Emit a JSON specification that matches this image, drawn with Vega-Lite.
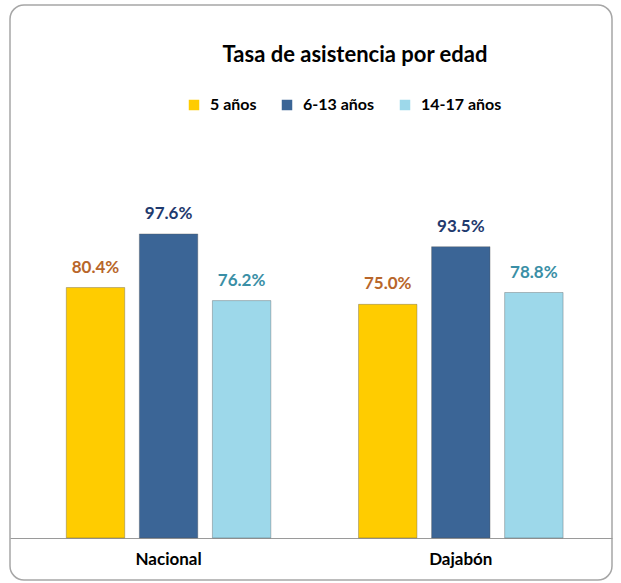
{
  "$schema": "https://vega.github.io/schema/vega-lite/v6.json",
  "width": 621,
  "height": 583,
  "autosize": {"type": "fit", "contains": "padding"},
  "padding": {"left": 10, "top": 5, "right": 9, "bottom": 3},
  "background": "white",
  "view": {"stroke": "#a6a6a6", "strokeWidth": 1.5, "cornerRadius": 14, "fill": "white"},
  "title": {"text": "Tasa de asistencia por edad", "offset": -62, "dx": 44, "fontSize": 22, "font": "Lato", "fontWeight": "bold", "color": "#000000"},
  "data": {"values": [
    {"region": "Nacional", "edad": "5 años", "tasa": 0.804},
    {"region": "Nacional", "edad": "6-13 años", "tasa": 0.976},
    {"region": "Nacional", "edad": "14-17 años", "tasa": 0.762},
    {"region": "Dajabón", "edad": "5 años", "tasa": 0.750},
    {"region": "Dajabón", "edad": "6-13 años", "tasa": 0.935},
    {"region": "Dajabón", "edad": "14-17 años", "tasa": 0.788}
  ]},
  "encoding": {
    "x": {"field": "region", "type": "nominal", "sort": ["Nacional", "Dajabón"],
      "scale": {"paddingInner": 0.3, "paddingOuter": 0.18, "align": 0.535},
      "axis": {"title": null, "labelAngle": 0, "ticks": false, "domainColor": "#9a9a9a", "domainWidth": 1.2, "labelFontSize": 17, "labelFont": "Lato", "labelFontWeight": "bold", "labelColor": "#000000", "offset": -42, "labelPadding": 13, "grid": false}},
    "xOffset": {"field": "edad", "type": "nominal", "sort": ["5 años", "6-13 años", "14-17 años"], "scale": {"paddingInner": 0.2}},
    "y": {"field": "tasa", "type": "quantitative", "scale": {"domain": [-0.135, 1.711]}, "axis": null}
  },
  "layer": [
    {
      "mark": {"type": "bar", "stroke": "#555555", "strokeWidth": 0.6, "strokeOpacity": 0.6},
      "encoding": {
        "y2": {"datum": 0},
        "color": {"field": "edad", "type": "nominal", "sort": ["5 años", "6-13 años", "14-17 años"],
          "scale": {"domain": ["5 años", "6-13 años", "14-17 años"], "range": ["#FFCC00", "#3B6596", "#9DD8EA"]},
          "legend": {"title": null, "orient": "none", "legendX": 176, "legendY": 92, "direction": "horizontal", "symbolType": "square", "symbolSize": 110, "symbolStrokeWidth": 0, "labelFontSize": 16, "labelFont": "Lato", "labelFontWeight": "bold", "labelColor": "#000000", "labelOffset": 8, "columnPadding": 22}}
      }
    },
    {
      "mark": {"type": "text", "baseline": "bottom", "dy": -11, "fontSize": 17, "font": "Lato", "fontWeight": "bold"},
      "encoding": {
        "text": {"field": "tasa", "type": "quantitative", "format": ".1%"},
        "color": {"field": "edad", "type": "nominal",
          "scale": {"domain": ["5 años", "6-13 años", "14-17 años"], "range": ["#B8662A", "#1F3A6E", "#3A8FA6"]},
          "legend": null}
      }
    }
  ],
  "resolve": {"scale": {"color": "independent"}}
}
